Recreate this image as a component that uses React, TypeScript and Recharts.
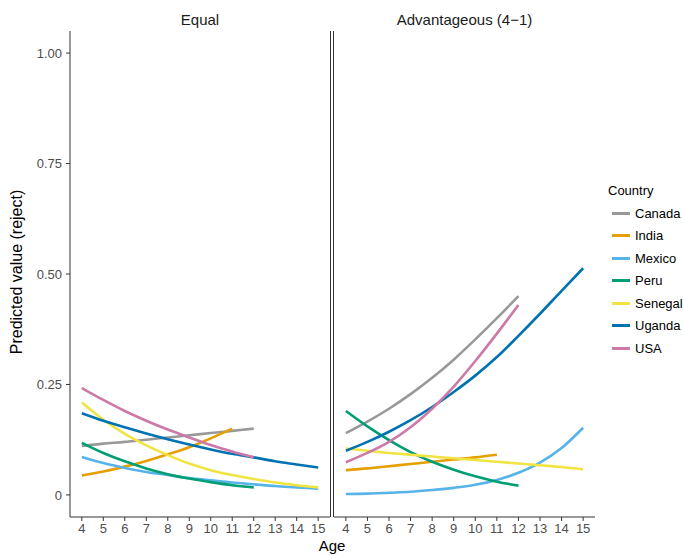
import React from "react";
import { LineChart, Line, XAxis, YAxis } from "recharts";

const AGES = [4, 5, 6, 7, 8, 9, 10, 11, 12, 13, 14, 15];
const Y_TICKS = [0, 0.25, 0.5, 0.75, 1];

const COUNTRIES = ["Canada", "India", "Mexico", "Peru", "Senegal", "Uganda", "USA"];
const COLORS = ["#999999", "#E69F00", "#56B4E9", "#009E73", "#F0E442", "#0072B2", "#CC79A7"];

// Equal condition, values start at age 4
const equalCanada = [0.111, 0.116, 0.12, 0.125, 0.13, 0.135, 0.14, 0.145, 0.15];
const equalIndia = [0.044, 0.053, 0.064, 0.077, 0.092, 0.108, 0.128, 0.15];
const equalMexico = [0.086, 0.072, 0.061, 0.052, 0.045, 0.038, 0.033, 0.028, 0.024, 0.02, 0.017, 0.014];
const equalPeru = [0.118, 0.095, 0.076, 0.06, 0.047, 0.037, 0.029, 0.022, 0.017];
const equalSenegal = [0.209, 0.17, 0.138, 0.112, 0.09, 0.071, 0.056, 0.045, 0.036, 0.028, 0.022, 0.017];
const equalUganda = [0.185, 0.168, 0.153, 0.139, 0.126, 0.114, 0.103, 0.093, 0.085, 0.076, 0.069, 0.062];
const equalUSA = [0.242, 0.215, 0.19, 0.168, 0.148, 0.13, 0.113, 0.098, 0.085];

// Advantageous (4-1) condition
const advCanada = [0.14, 0.166, 0.195, 0.228, 0.265, 0.306, 0.352, 0.4, 0.45];
const advIndia = [0.056, 0.06, 0.065, 0.07, 0.075, 0.08, 0.085, 0.091];
const advMexico = [0.002, 0.003, 0.005, 0.007, 0.011, 0.016, 0.023, 0.034, 0.05, 0.073, 0.106, 0.152];
const advPeru = [0.19, 0.155, 0.124, 0.097, 0.075, 0.057, 0.042, 0.03, 0.021];
const advSenegal = [0.105, 0.1, 0.095, 0.091, 0.087, 0.083, 0.079, 0.075, 0.071, 0.067, 0.063, 0.058];
const advUganda = [0.1, 0.12, 0.143, 0.169, 0.199, 0.233, 0.27, 0.312, 0.36, 0.41, 0.462, 0.513];
const advUSA = [0.074, 0.095, 0.12, 0.153, 0.195, 0.245, 0.303, 0.365, 0.43];

const EQUAL = [equalCanada, equalIndia, equalMexico, equalPeru, equalSenegal, equalUganda, equalUSA];
const ADV = [advCanada, advIndia, advMexico, advPeru, advSenegal, advUganda, advUSA];

const toRows = (vals: number[]) => vals.map((v, i) => ({ age: AGES[i], value: v }));

const FONT = "'Liberation Sans', Arial, Helvetica, sans-serif";
const AXIS = "#333333";
const TICK = { fill: "#4d4d4d", fontSize: 13, fontFamily: FONT };

function Panel({ series, left, width, showY }: { series: number[][]; left: number; width: number; showY: boolean }) {
  return (
    <div style={{ position: "absolute", left, top: 0 }}>
      <LineChart width={width} height={555} margin={{ top: 31, right: showY ? 10 : 9, bottom: 8, left: 0 }}>
        <XAxis
          type="number"
          dataKey="age"
          domain={[3.45, 15.55]}
          ticks={AGES}
          allowDataOverflow
          height={30}
          tickSize={4}
          tickMargin={3}
          stroke={AXIS}
          tick={TICK}
          interval={0}
        />
        <YAxis
          type="number"
          domain={[-0.05, 1.05]}
          ticks={Y_TICKS}
          allowDataOverflow
          width={showY ? 70 : 0}
          tick={showY ? TICK : false}
          tickLine={showY}
          tickSize={4}
          tickMargin={4}
          stroke={AXIS}
          tickFormatter={(v: number) => (v === 0 ? "0" : v.toFixed(2))}
        />
        {series.map((vals, i) => (
          <Line
            key={COUNTRIES[i]}
            data={toRows(vals)}
            dataKey="value"
            type="monotone"
            stroke={COLORS[i]}
            strokeWidth={2.6}
            dot={false}
            isAnimationActive={false}
          />
        ))}
      </LineChart>
    </div>
  );
}

export default function App() {
  return (
    <div style={{ position: "absolute", left: 0, top: 0, width: 683, height: 555, background: "#fff", fontFamily: FONT }}>
      <Panel series={EQUAL} left={0} width={340} showY />
      <Panel series={ADV} left={334} width={270} showY={false} />
      <div style={{ position: "absolute", left: 330, top: 31, width: 1, height: 486, background: AXIS }} />
      <div style={{ position: "absolute", left: 333, top: 31, width: 1, height: 486, background: AXIS }} />
      <div style={{ position: "absolute", left: 70, width: 260, top: 11, textAlign: "center", fontSize: 15, color: "#1a1a1a" }}>
        Equal
      </div>
      <div style={{ position: "absolute", left: 334, width: 261, top: 11, textAlign: "center", fontSize: 15, color: "#1a1a1a" }}>
        Advantageous (4−1)
      </div>
      <div
        style={{
          position: "absolute",
          left: 17,
          top: 272,
          transform: "translate(-50%, -50%) rotate(-90deg)",
          whiteSpace: "nowrap",
          fontSize: 16,
          color: "#000",
        }}
      >
        Predicted value (reject)
      </div>
      <div
        style={{
          position: "absolute",
          left: 282,
          width: 100,
          top: 537,
          height: 17,
          lineHeight: "17px",
          textAlign: "center",
          fontSize: 15,
          color: "#000",
        }}
      >
        Age
      </div>
      <div style={{ position: "absolute", left: 608, top: 183, fontSize: 13, color: "#000" }}>
        Country
        {COUNTRIES.map((c, i) => (
          <div key={c} style={{ display: "flex", alignItems: "center", height: 22.5, fontSize: 13, marginTop: i === 0 ? 4 : 0 }}>
            <span style={{ display: "inline-block", width: 18, height: 3, background: COLORS[i], marginLeft: 4, marginRight: 5 }} />
            {c}
          </div>
        ))}
      </div>
    </div>
  );
}
